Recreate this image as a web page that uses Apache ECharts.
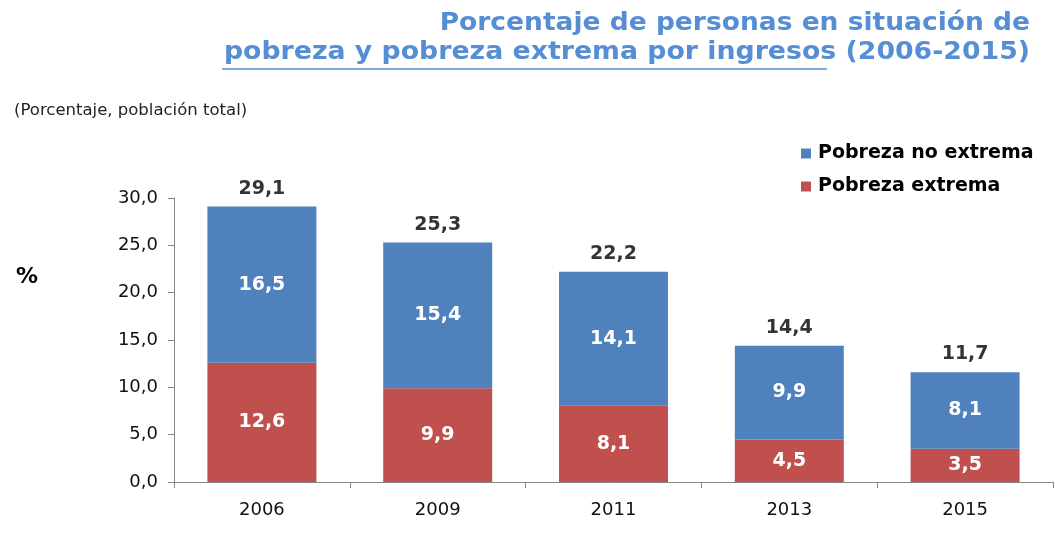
<!DOCTYPE html>
<html>
<head>
<meta charset="utf-8">
<script src="https://cdn.jsdelivr.net/npm/echarts@6/dist/echarts.min.js"></script>
<style>
  html, body { margin: 0; padding: 0; background: #fff; }
  #chart { width: 1055px; height: 549px; }
</style>
</head>
<body>
<div id="chart"></div>
<script>
// datos
const years = ['2006', '2009', '2011', '2013', '2015'];
const pobrezaExtrema = [12.6, 9.9, 8.1, 4.5, 3.5];
const pobrezaNoExtrema = [16.5, 15.4, 14.1, 9.9, 8.1];
const totales = [29.1, 25.3, 22.2, 14.4, 11.7];

const FONT = '"DejaVu Sans"';
const coma = v => Number(v).toFixed(1).replace('.', ',');

const chart = echarts.init(document.getElementById('chart'));

const etiqueta = {
  fontFamily: FONT, fontSize: 19, fontWeight: 'bold'
};

const option = {
  backgroundColor: '#ffffff',
  animation: false,
  textStyle: { fontFamily: FONT },
  grid: { left: 174, right: 2, top: 198, bottom: 67 },
  legend: {
    orient: 'vertical',
    left: 796,
    top: 139,
    itemGap: 14,
    itemWidth: 10,
    itemHeight: 10,
    icon: 'rect',
    data: ['Pobreza no extrema', 'Pobreza extrema'],
    textStyle: { fontFamily: FONT, fontSize: 19, fontWeight: 'bold', color: '#000', padding: [0, 0, 0, 2] }
  },
  xAxis: {
    type: 'category',
    data: years,
    axisLine: { lineStyle: { color: '#868686' } },
    axisTick: { show: true, length: 6, lineStyle: { color: '#868686' } },
    axisLabel: { fontFamily: FONT, fontSize: 18, color: '#111', margin: 19 }
  },
  yAxis: {
    type: 'value',
    min: 0,
    max: 30,
    interval: 5,
    splitLine: { show: false },
    axisLine: { show: true, lineStyle: { color: '#868686' } },
    axisTick: { show: true, length: 6, lineStyle: { color: '#868686' } },
    axisLabel: { fontFamily: FONT, fontSize: 18, color: '#111', margin: 16, formatter: coma }
  },
  series: [
    {
      name: 'Pobreza extrema',
      type: 'bar',
      stack: 'pobreza',
      barWidth: '62%',
      data: pobrezaExtrema,
      itemStyle: { color: '#C0504D' },
      label: Object.assign({
        show: true, position: 'inside', color: '#fff',
        formatter: p => coma(p.value)
      }, etiqueta)
    },
    {
      name: 'Pobreza no extrema',
      type: 'bar',
      stack: 'pobreza',
      data: pobrezaNoExtrema,
      itemStyle: { color: '#4F81BD' },
      label: Object.assign({
        show: true, position: 'inside', color: '#fff',
        formatter: p => coma(p.value)
      }, etiqueta)
    },
    {
      name: 'Total',
      type: 'scatter',
      data: totales,
      symbolSize: 0,
      silent: true,
      label: Object.assign({
        show: true, position: 'top', distance: 8, color: '#000',
        formatter: p => coma(p.value)
      }, etiqueta)
    }
  ],
  graphic: [
    {
      type: 'text', x: 1030, y: 11, scaleX: 1.06,
      style: {
        text: 'Porcentaje de personas en situación de',
        fill: '#558ED5', font: 'bold 25px "DejaVu Sans"', textAlign: 'right', textVerticalAlign: 'top'
      }
    },
    {
      type: 'text', x: 1030, y: 40, scaleX: 1.07,
      style: {
        text: 'pobreza y pobreza extrema por ingresos (2006-2015)',
        fill: '#558ED5', font: 'bold 25px "DejaVu Sans"', textAlign: 'right', textVerticalAlign: 'top'
      }
    },
    {
      type: 'line',
      shape: { x1: 222, y1: 69, x2: 827, y2: 69 },
      style: { stroke: '#558ED5', lineWidth: 1.5 }
    },
    {
      type: 'text', left: 14, top: 102,
      style: { text: '(Porcentaje, población total)', fill: '#222', font: '16.5px "DejaVu Sans"' }
    },
    {
      type: 'text', left: 16, top: 266,
      style: { text: '%', fill: '#000', font: 'bold 22px "DejaVu Sans"' }
    }
  ]
};

chart.setOption(option);
</script>
</body>
</html>
